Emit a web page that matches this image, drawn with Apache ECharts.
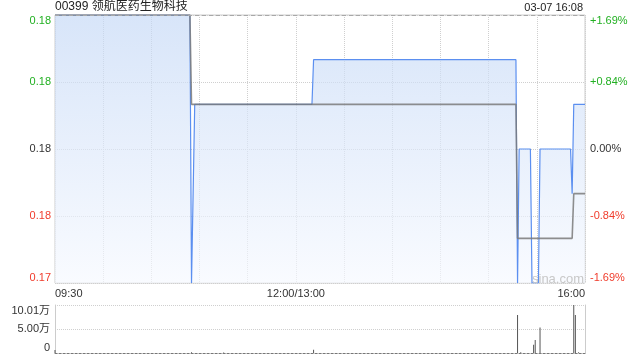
<!DOCTYPE html>
<html><head><meta charset="utf-8">
<script src="https://cdn.jsdelivr.net/npm/echarts@6/dist/echarts.min.js"></script>
<style>html,body{margin:0;padding:0;background:#fff}#c{width:640px;height:360px}</style>
</head><body><div id="c"></div>
<script>
// ---- data (minute index from 09:30, lunch break removed; 330 = 16:00) ----
const prevClose = 0.177;
const pricePoints = [
  [0,0.180],[84,0.180],[85,0.174],[86,0.174],[87,0.178],[160,0.178],[161,0.179],
  [287,0.179],[288,0.174],[289,0.177],[296,0.177],[297,0.174],[301,0.174],[302,0.177],
  [321,0.177],[322,0.176],[323,0.178],[330,0.178]
];
const avgPoints = [
  [0,0.180],[84,0.180],[85,0.178],[287,0.178],[288,0.175],[322,0.175],[323,0.176],[330,0.176]
];
const volumePoints = [
  [0,6000],[85,1500],[105,1200],[161,7000],[288,79000],[290,1500],
  [298,17000],[299,27000],[302,53000],[323,100100],[324,79000],[326,1500]
];
const xTickIndex = [0,150,330];
const xTickText = ['09:30','12:00/13:00','16:00'];
const priceTickText = ['0.17','0.18','0.18','0.18','0.18'];
const pctTickText = ['-1.69%','-0.84%','0.00%','+0.84%','+1.69%'];
const volTickText = ['0','5.00万','10.01万'];
const titleText = '00399 领航医药生物科技';
const dateText = '03-07 16:08';

const FONT = 'Liberation Sans, Arial, Noto Sans CJK SC, sans-serif';
const RED = '#f03c2c', GREEN = '#22b022', DARK = '#333';
const rich = {
  r:{color:RED,fontSize:11,fontFamily:FONT},
  k:{color:DARK,fontSize:11,fontFamily:FONT},
  g:{color:GREEN,fontSize:11,fontFamily:FONT}
};
function tag(i){ return i < 2 ? 'r' : (i === 2 ? 'k' : 'g'); }

const chart = echarts.init(document.getElementById('c'), null, {renderer:'canvas'});
chart.setOption({
  animation:false,
  backgroundColor:'#fff',
  textStyle:{fontFamily:FONT},
  grid:[
    {left:55,right:55,top:15,height:268,show:true,borderColor:'#cccccc',borderWidth:1,backgroundColor:'transparent'},
    {left:55,right:55,top:305,height:48}
  ],
  xAxis:[
    {type:'value',gridIndex:0,min:0,max:330,interval:30,
     axisLine:{show:false},axisTick:{show:false},
     splitLine:{show:true,lineStyle:{color:'#cfcfcf',type:'dotted',width:1}},
     axisLabel:{color:DARK,fontSize:11,fontFamily:FONT,margin:5,
       showMinLabel:true,showMaxLabel:true,alignMinLabel:'left',alignMaxLabel:'right',
       formatter:function(v){const k=xTickIndex.indexOf(v);return k>=0?xTickText[k]:'';}}},
    {type:'value',gridIndex:1,min:0,max:330,interval:30,
     axisLine:{show:true,onZero:false,lineStyle:{color:'#777',type:[2,2],width:1}},
     axisTick:{show:false},axisLabel:{show:false},splitLine:{show:false}}
  ],
  yAxis:[
    {type:'value',gridIndex:0,position:'left',min:0.174,max:0.180,interval:0.0015,
     axisLine:{show:false},axisTick:{show:false},
     splitLine:{show:true,lineStyle:{color:'#cfcfcf',type:'dotted',width:1}},
     axisLabel:{margin:4,verticalAlignMinLabel:'bottom',verticalAlignMaxLabel:'top',rich:rich,
       formatter:function(v,i){return '{'+tag(i)+'|'+priceTickText[i]+'}';}}},
    {type:'value',gridIndex:0,position:'right',min:0.174,max:0.180,interval:0.0015,
     axisLine:{show:false},axisTick:{show:false},splitLine:{show:false},
     axisLabel:{margin:5,verticalAlignMinLabel:'bottom',verticalAlignMaxLabel:'top',rich:rich,
       formatter:function(v,i){return '{'+tag(i)+'|'+pctTickText[i]+'}';}}},
    {type:'value',gridIndex:1,position:'left',min:0,max:100100,interval:50050,
     axisLine:{show:true,lineStyle:{color:'#cccccc',width:1}},axisTick:{show:false},
     splitLine:{show:true,lineStyle:{color:'#cfcfcf',type:'dotted',width:1}},
     axisLabel:{margin:5,color:DARK,fontSize:11,fontFamily:FONT,
       verticalAlignMinLabel:'bottom',verticalAlignMaxLabel:'top',
       formatter:function(v,i){return volTickText[i];}}},
    {type:'value',gridIndex:1,position:'right',min:0,max:100100,interval:50050,
     axisLine:{show:true,lineStyle:{color:'#cccccc',width:1}},axisTick:{show:false},
     splitLine:{show:false},axisLabel:{show:false}}
  ],
  series:[
    {type:'line',name:'price',xAxisIndex:0,yAxisIndex:0,data:pricePoints,symbol:'none',z:2,
     lineStyle:{color:'#5b8ff0',width:1.2},
     areaStyle:{origin:'start',color:new echarts.graphic.LinearGradient(0,0,0,1,[
       {offset:0,color:'rgba(196,216,246,0.95)'},{offset:1,color:'rgba(246,249,255,0.95)'}])},
     markLine:{silent:true,symbol:'none',label:{show:false},
       lineStyle:{color:'#a8a8a8',type:[4,3],width:1},data:[{yAxis:prevClose}]}},
    {type:'line',name:'avg',xAxisIndex:0,yAxisIndex:0,data:avgPoints,symbol:'none',z:3,
     lineStyle:{color:'#7a7a7a',width:1.6,opacity:0.85}},
    {type:'bar',name:'volume',xAxisIndex:1,yAxisIndex:2,data:volumePoints,barWidth:1,
     itemStyle:{color:'#555'}}
  ],
  graphic:[
    {type:'text',left:55,top:1,style:{text:titleText,font:'12px '+FONT,fill:'#222'}},
    {type:'text',right:57,top:2,style:{text:dateText,font:'11px '+FONT,fill:'#222'}},
    {type:'text',left:532,top:273,z:10,style:{text:'sina.com',font:'13px '+FONT,fill:'#c8c8c8'}}
  ]
});
</script></body></html>
